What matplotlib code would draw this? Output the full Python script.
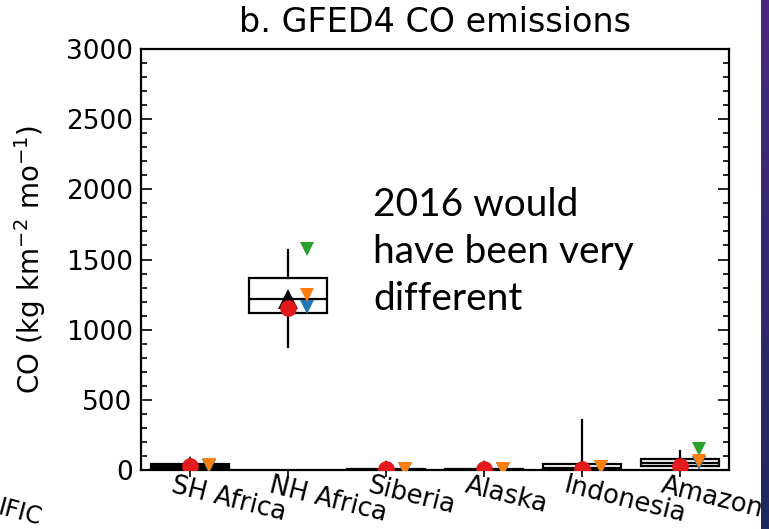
import numpy as np
import matplotlib
matplotlib.use("Agg")
import matplotlib.pyplot as plt
from matplotlib.ticker import MultipleLocator
from matplotlib.transforms import blended_transform_factory, ScaledTranslation

# Regions and box statistics (kg km^-2 mo^-1)
regions = ["SH Africa", "NH Africa", "Siberia", "Alaska", "Indonesia", "Amazon"]
whisker_low = [8, 875, 0, 0, 0, 12]
q1 = [12, 1120, 0, 0, 3, 28]
median = [25, 1215, 3, 2, 15, 52]
q3 = [40, 1365, 8, 6, 45, 80]
whisker_high = [45, 1565, 10, 8, 355, 135]

# Individual year / model values per region
black_vals = [26, 1222, 3, 3, 10, 34]
red_vals = [27, 1157, 4, 4, 8, 32]
green_vals = [30, 1572, 5, 5, 24, 150]
blue_vals = [28, 1165, 4, 4, 18, 48]
orange_vals = [33, 1250, 6, 6, 22, 64]

fig = plt.figure(figsize=(7.69, 5.29), dpi=100)
ax = fig.add_axes([141 / 769, 1 - 470 / 529, 588 / 769, 421 / 529])

pos = np.arange(len(regions))
stats = []
for i in range(len(regions)):
    stats.append(dict(whislo=whisker_low[i], q1=q1[i], med=median[i],
                      q3=q3[i], whishi=whisker_high[i], fliers=[]))

ax.bxp(stats, positions=pos, widths=0.8, showcaps=False, showfliers=False,
       patch_artist=True,
       boxprops=dict(facecolor="white", edgecolor="black", linewidth=1.6),
       medianprops=dict(color="black", linewidth=1.6),
       whiskerprops=dict(color="black", linewidth=1.6))

off = 0.19
ax.plot(pos, black_vals, linestyle="none", marker="^", color="black",
        markersize=14, markeredgewidth=0, zorder=4)
ax.plot(pos, red_vals, linestyle="none", marker="o", color="#e31a1c",
        markersize=12, markeredgewidth=0, zorder=5)
ax.plot(pos + off, green_vals, linestyle="none", marker="v", color="#2ca02c",
        markersize=10, markeredgewidth=0, zorder=4)
ax.plot(pos + off, blue_vals, linestyle="none", marker="v", color="#1f77b4",
        markersize=10, markeredgewidth=0, zorder=5)
ax.plot(pos + off, orange_vals, linestyle="none", marker="v", color="#ff7f0e",
        markersize=10, markeredgewidth=0, zorder=6)

ax.set_xlim(-0.5, len(regions) - 0.5)
ax.set_ylim(0, 3000)

for s in ax.spines.values():
    s.set_linewidth(1.6)

ax.yaxis.set_major_locator(MultipleLocator(500))
ax.yaxis.set_minor_locator(MultipleLocator(100))
ax.tick_params(axis="y", which="major", direction="in", length=8, width=1.2,
               left=True, right=True, labelsize=19, pad=6)
ax.tick_params(axis="y", which="minor", direction="in", length=4, width=1.2,
               left=True, right=True)
ax.set_xticks(pos)
ax.set_xticklabels([])
ax.tick_params(axis="x", which="major", direction="out", length=5, width=1.2,
               top=False, bottom=True)

# Slanted region labels starting at each tick
trans = blended_transform_factory(ax.transData, ax.transAxes)
shift = ScaledTranslation(-15 / 100, -3 / 100, fig.dpi_scale_trans)
for p, name in zip(pos, regions):
    ax.text(p, 0, name, transform=trans + shift, rotation=-14,
            rotation_mode="anchor", ha="left", va="top", fontsize=18.5)

ax.set_ylabel("CO (kg km$^{-2}$ mo$^{-1}$)", fontsize=20)
ax.yaxis.set_label_coords((48 - 141) / 588, 0.5)

ax.set_title("b. GFED4 CO emissions", fontsize=24, pad=12)

fig.text(373 / 769, 1 - 187 / 529, "2016 would\nhave been very\ndifferent",
         fontsize=28, family="Lato", ha="left", va="top", linespacing=1.38)

fig.text(2 / 769, 1 - 496 / 529, "IFIC", rotation=-15, rotation_mode="anchor",
         ha="left", va="top", fontsize=17)

# Slide-edge colour band on the right
band = fig.add_axes([761 / 769, 0, 8 / 769, 1])
top_c = np.array([74, 40, 128]) / 255
bot_c = np.array([30, 40, 92]) / 255
t = np.linspace(0, 1, 256)[:, None]
grad = (top_c[None, :] * (1 - t) + bot_c[None, :] * t)[:, None, :]
band.imshow(grad, aspect="auto", extent=[0, 1, 0, 1])
band.set_axis_off()

fig.savefig("out.png", dpi=100)
